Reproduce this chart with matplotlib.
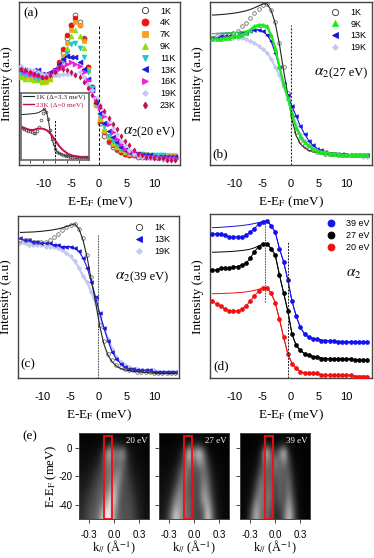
import matplotlib
matplotlib.use('Agg')
import numpy as np
import matplotlib.pyplot as plt
from matplotlib.lines import Line2D
from matplotlib.patches import Rectangle

plt.rcParams['mathtext.fontset'] = 'stix'
SERIF = 'Liberation Serif'
SANS = 'Liberation Sans'
W, H = 374, 558

# energy grid of the EDC points (meV)
energy = np.arange(38) * 0.75 - 14

# panel (a)
a_1k = [58,57,56,56,55,55,55,55,56,61,69,78,86,92,88,78,60,48,37,26,18,14,11,9,8,7,6,6,5,5,5,5,5,5,5,4,4,4]
a_4k = [57,57,56,56,55,54,54,55,58,63,71,80,86,90,86,77,60,48,38,27,20,15,12,10,8,7,6,6,6,6,5,5,5,5,5,5,4,4]
a_7k = [55,54,54,53,52,51,51,53,56,61,67,75,83,88,86,76,59,47,37,29,21,17,13,11,9,8,7,7,7,7,7,6,6,6,6,6,6,6]
a_9k = [54,53,53,52,52,51,52,53,56,60,65,72,79,83,79,72,58,47,38,28,22,17,14,11,10,8,8,7,7,6,6,6,6,5,5,5,5,5]
a_11k = [56,55,55,54,53,54,54,55,57,60,64,69,74,75,72,66,57,47,39,30,24,18,15,12,10,9,8,7,7,7,6,6,6,6,6,5,5,5]
a_13k = [58,58,57,58,58,56,56,57,59,62,65,67,66,66,63,59,53,46,38,32,26,21,17,14,11,9,8,7,7,6,6,6,5,5,5,5,5,5]
a_16k = [59,57,56,56,55,55,55,56,58,59,61,62,63,62,61,57,52,46,41,35,30,25,20,16,13,10,8,7,6,6,5,5,5,4,4,4,4,4]
a_19k = [61,59,58,58,57,56,55,55,55,55,56,56,56,56,57,54,50,46,41,37,32,27,23,19,15,12,9,7,6,5,5,4,4,4,3,3,3,3]
a_23k = [59,58,57,56,55,54,54,55,57,60,59,58,57,55,54,51,47,43,39,36,33,29,25,22,18,15,12,9,7,6,5,5,4,4,4,3,3,3]

# inset of (a)
in_1k = [49,48,47,45,44,43,42,41,41,43,50,60,70,76,72,62,45,32,24,17,12,10,9,8,7,6,6,5,5,5,5,5,4,4,4,4,4,4]
in_1k_fit = [68,68.2,68.4,68.6,68.8,69,69.3,69.6,70,70.6,71.5,73,74.5,76,72,62,45,32,24,17,12,10,9,8,7,6,6,5,5,5,5,5,4,4,4,4,4,4]
in_23k = [49,49,48,47,46,45,45,45,46,47,47,47,47,46,45,43,40,37,33,29,25,21,18,15,13,11,9,8,7,6,6,5,5,4,4,4,4,4]

# panel (b)
b_1k = [78,79,79,80,80,81,82,85,87,90,93,96,98,99,95,88,75,60,44,30,20,15,12,10,9,8,8,7,7,7,6,6,6,6,6,6,6,6]
b_1k_fit = [92,92.1,92.3,92.5,92.8,93.1,93.5,94,94.6,95.4,96.4,97.6,98.8,99,95,87,74,58,43,28,18,13,10.5,9,8.2,7.7,7.3,7,6.8,6.6,6.4,6.3,6.2,6.1,6,6,6,6]
b_9k = [77,77,77,78,78,79,79,80,81,83,85,86,86,85,80,72,60,50,41,31,23,18,14,12,10,9,8,8,7,7,7,6,6,6,6,6,6,6]
b_9k_fit = [80.6,80.7,80.8,80.9,81,81.2,81.4,81.7,82.2,83,84.5,85.7,86,85,80,72,60,50,41,31,23,18,14.5,12,10.2,9,8.2,7.7,7.3,7,6.8,6.6,6.4,6.3,6.2,6.1,6,6]
b_13k = [78,78,79,79,79,79,80,81,81,82,83,83,82,80,76,69,60,50,43,36,30,24,19,15,12,10,9,8,7,7,7,7,6,6,6,6,6,6]
b_13k_fit = [80.6,80.7,80.8,80.9,81,81.1,81.3,81.5,81.8,82.3,82.8,83,82,80,76,69,60,50,43,36,30,24,19,15,12,10.2,9,8.2,7.7,7.3,7,6.8,6.6,6.4,6.2,6.1,6,6]
b_19k = [78,78,78,78,78,78,78,78,77,76,75,73,71,69,65,60,55,48,41,33,25,19,15,12,10,9,8,7,7,7,6,6,6,6,6,6,5,5]

# panel (c)
c_1k = [85,85,85,84,84,84,84,85,87,89,91,93,94,95,92,86,76,62,49,33,23,15,11,8,7,6,5,5,4,4,4,4,3,3,3,3,3,3]
c_1k_fit = [89.7,89.8,89.9,90,90.2,90.4,90.7,91,91.4,91.9,92.5,93.3,94.2,95,92,85,74,60,47,32,21,14,10,7.5,6,5.2,4.7,4.3,4,3.8,3.6,3.4,3.3,3.2,3.1,3,3,3]
c_13k = [86,85,85,84,84,83,83,83,82,82,81,81,81,80,78,74,68,59,50,40,31,23,16,12,9,7,6,6,5,5,5,5,4,4,4,4,4,4]
c_19k = [83,83,82,82,82,82,81,81,81,80,79,77,75,72,68,63,59,53,46,38,31,24,18,13,10,8,7,6,6,5,5,5,5,4,4,4,4,4]

# panel (d)
d_39 = [88,88,88,87,86,86,86,86,87,89,91,94,95,96,93,89,79,71,60,47,38,31,27,25,24,24,23,23,23,23,22,22,22,22,22,22,22,22]
d_39_fit = [91.7,91.8,91.9,92.1,92.3,92.5,92.7,93,93.3,93.7,94.2,94.8,95.4,96,93,89,79,71,60,47,38,31,27,25,24.3,23.8,23.4,23.1,22.9,22.7,22.5,22.4,22.2,22.1,22,21.9,21.8,21.7]
d_27 = [66,66,67,67,67,68,68,69,70,73,77,80,82,82,79,75,63,52,41,27,20,17,15,14,13,13,12,12,12,12,12,12,12,12,11,11,11,11]
d_27_fit = [76.7,76.8,76.9,77,77.1,77.3,77.5,77.8,78.1,78.6,79.4,80.5,81.6,82,79,75,63,52,41,27,20,17,15,14,13.3,12.8,12.5,12.2,12,11.8,11.7,11.6,11.5,11.4,11.3,11.2,11.1,11]
d_20 = [47,45,44,42,41,41,41,42,44,47,50,53,55,55,52,46,36,25,15,9,6,4,3,3,3,3,2,2,2,2,2,2,2,2,1,1,1,1]
d_20_fit = [51.5,51.5,51.6,51.7,51.8,51.9,52.1,52.3,52.6,53,53.5,54.2,54.9,55,52,46,36,25,15,9,6,4.2,3.3,2.8,2.5,2.3,2.1,2,1.9,1.8,1.7,1.6,1.6,1.5,1.5,1.4,1.4,1.4]

# panel (e): ARPES maps, rows from +10 to -50 meV, columns from -0.42 to 0.42
map_20 = [
    [2,2,2,2,2,3,4,4,4,3,3,2,2,2,2],
    [3,3,3,4,5,8,16,16,14,8,5,4,3,3,2],
    [4,4,5,6,10,32,82,48,52,60,15,6,4,3,2],
    [5,5,6,9,16,38,62,38,45,45,15,8,5,4,3],
    [6,7,9,14,22,35,50,40,48,38,20,10,6,5,3],
    [8,9,12,20,28,36,50,48,62,32,24,13,8,6,4],
    [10,12,17,25,32,38,50,68,52,30,27,16,10,7,4],
    [12,15,22,30,35,42,62,80,45,30,28,20,12,8,5],
    [14,20,26,32,38,52,80,85,40,30,30,24,14,9,5],
    [15,22,30,35,42,72,92,72,38,30,32,26,15,10,6],
    [18,25,32,38,55,92,98,62,38,32,32,28,18,10,6],
]
map_27 = [
    [1,1,1,1,2,2,3,3,3,2,2,1,1,1,1],
    [2,2,2,3,4,7,18,12,16,6,3,2,2,1,1],
    [3,3,3,4,8,30,88,52,86,48,8,3,2,2,1],
    [3,3,4,6,14,35,70,35,65,55,18,5,3,2,2],
    [4,4,5,10,25,45,45,30,40,48,28,8,4,3,2],
    [5,5,8,14,35,50,38,30,32,48,35,10,5,3,2],
    [5,6,10,22,45,45,35,30,30,55,42,14,6,3,2],
    [6,8,12,35,55,42,35,30,30,62,48,18,7,4,2],
    [7,10,20,50,60,42,38,30,28,65,62,22,8,4,3],
    [8,12,30,65,62,45,40,28,28,45,75,30,9,5,3],
    [9,15,40,85,62,45,40,28,26,35,88,38,10,5,3],
]
map_39 = [
    [1,1,1,1,1,2,2,2,2,2,1,1,1,1,1],
    [1,1,1,2,4,15,12,5,8,15,4,2,1,1,1],
    [2,2,2,3,10,85,48,20,48,85,12,3,2,1,1],
    [2,2,3,5,20,60,35,52,38,60,25,4,2,2,1],
    [3,3,3,8,30,45,35,45,38,40,30,6,3,2,1],
    [3,3,4,15,40,40,38,35,38,35,38,10,3,2,1],
    [3,3,6,25,50,38,45,25,40,32,45,14,4,2,1],
    [3,4,8,35,52,38,50,22,40,32,50,18,4,2,1],
    [3,4,15,52,50,40,50,20,36,30,62,24,5,2,2],
    [3,5,25,68,45,42,42,18,28,35,72,32,5,2,2],
    [3,6,38,75,42,42,35,15,20,40,82,38,6,3,2],
]

LIGHT = '#c3c8f5'
BLUE = '#1414e6'
LIME = '#22e622'
GREY = '#444444'

fig = plt.figure(figsize=(W / 100, H / 100), dpi=100)


def axes_px(left, top, right, bottom):
    return fig.add_axes([left / W, 1 - bottom / H, (right - left) / W, (bottom - top) / H])


def edc_panel(left, top, right, bottom, xlim, letter, lx, ly):
    ax = axes_px(left, top, right, bottom)
    ax.set_xlim(*xlim)
    ax.set_ylim(0, 100)
    ax.set_yticks([])
    ax.set_xticks([-10, -5, 0, 5, 10])
    ax.set_xticklabels(['-10', '-5', '0', '5', '10'], family=SANS, fontsize=8)
    ax.tick_params(axis='x', length=0, pad=10)
    ax.set_xlabel('E-E$_{\\mathrm{F}}$ (meV)', family=SERIF, fontsize=9.5, labelpad=4)
    ax.set_ylabel('Intensity (a.u)', family=SERIF, fontsize=9.5, labelpad=4)
    for s in ax.spines.values():
        s.set_color(GREY)
        s.set_linewidth(1.0)
    ax.text(lx, ly, letter, transform=ax.transAxes, family=SERIF, fontsize=9.5, va='center')
    return ax


def add_legend(ax, entries, anchor, spacing=0.31):
    handles = [Line2D([], [], ls='none', marker=m, ms=ms, mfc=fc, mec=ec, mew=0.6, label=t)
               for t, m, ms, fc, ec in entries]
    ax.legend(handles=handles, loc='upper right', bbox_to_anchor=anchor, frameon=False,
              prop={'family': SANS, 'size': 6.5}, labelspacing=spacing, handletextpad=1.1,
              handlelength=1.2, borderpad=0, borderaxespad=0)


def pts(ax, y, marker, fc, ec=None, ms=3.2, z=3):
    ax.plot(energy, y, ls='none', marker=marker, ms=ms, mfc=fc, mec=ec or fc, mew=0.5, zorder=z)


# panel (a)
ax = edc_panel(19, 2, 180, 165, (-14.4, 14.6), '(a)', 0.027, 0.93)
pts(ax, a_1k, 'o', 'none', '#333333', ms=3.5, z=3)
pts(ax, a_4k, 'o', '#f01010', ms=3.5, z=4)
pts(ax, a_7k, 's', '#f9a01b', ms=3.5, z=5)
pts(ax, a_9k, '^', '#8fe000', ms=3.5, z=6)
pts(ax, a_11k, 'v', '#1fc8c8', ms=3.5, z=7)
pts(ax, a_13k, '<', '#1a1ae0', ms=3.5, z=8)
pts(ax, a_16k, '>', '#f01ed8', ms=3.5, z=9)
pts(ax, a_19k, 'D', LIGHT, ms=2.4, z=10)
pts(ax, a_23k, 'd', '#c01050', ms=2.6, z=11)
ax.plot([0, 0], [0, 86], color='k', lw=0.7, ls=(0, (3, 2)))
ax.text(0.645, 0.20, '$\\alpha_2$', transform=ax.transAxes, family=SERIF, fontsize=11, va='center')
ax.text(0.735, 0.20, '(20 eV)', transform=ax.transAxes, family=SERIF, fontsize=8.8, va='center')
add_legend(ax, [('1K', 'o', 4.5, 'none', '#333333'), ('4K', 'o', 5, '#f01010', '#f01010'),
                ('7K', 's', 5, '#f9a01b', '#f9a01b'), ('9K', '^', 5, '#8fe000', '#8fe000'),
                ('11K', 'v', 5, '#1fc8c8', '#1fc8c8'), ('13K', '<', 5, '#1a1ae0', '#1a1ae0'),
                ('16K', '>', 5, '#f01ed8', '#f01ed8'), ('19K', 'D', 3, LIGHT, LIGHT),
                ('23K', 'd', 3.5, '#c01050', '#c01050')], (0.975, 0.972))

# inset of (a)
ins = axes_px(20.7, 93.3, 89, 160)
ins.set_zorder(20)
ins.set_xlim(-14, 14)
ins.set_ylim(0, 100)
ins.set_yticks([])
ins.set_xticks([-10, -5, 0, 5, 10])
ins.set_xticklabels([])
ins.tick_params(axis='x', length=2.5, width=0.7, color=GREY)
for s in ins.spines.values():
    s.set_color('#666666')
    s.set_linewidth(1.2)
ins.plot(energy, in_1k_fit, color='#222222', lw=0.7)
ins.plot(energy, in_1k, ls='none', marker='o', ms=2.0, mfc='none', mec='#444444', mew=0.5)
ins.plot(energy, in_23k, color='#c0104a', lw=1.4)
ins.plot([0, 0], [0, 60], color='k', lw=0.7, ls=(0, (2, 1.5)))
h1 = Line2D([], [], color='#222222', lw=0.8, label='1K (\u0394=3.3 meV)')
h2 = Line2D([], [], color='#c0104a', lw=1.0, label='23K (\u0394=0 meV)')
ins.legend(handles=[h1, h2], loc='upper left', bbox_to_anchor=(0.03, 1.0), frameon=False,
           prop={'family': SERIF, 'size': 5.2}, labelcolor=['#222222', '#c0104a'],
           labelspacing=0.3, handlelength=1.6, handletextpad=0.3, borderpad=0, borderaxespad=0)

# panel (b)
ax = edc_panel(209.7, 2, 372, 165, (-14.5, 14.6), '(b)', 0.015, 0.065)
ax.plot(energy, b_19k, color=LIGHT, lw=1.4, zorder=2)
pts(ax, b_19k, 'D', LIGHT, ms=2.2, z=2)
ax.plot(energy, b_1k_fit, color='#222222', lw=0.8, zorder=5)
pts(ax, b_1k, 'o', 'none', '#555555', ms=2.6, z=4)
ax.plot(energy, b_13k_fit, color=BLUE, lw=0.8, zorder=3)
pts(ax, b_13k, '<', BLUE, ms=2.6, z=3)
ax.plot(energy, b_9k, color=LIME, lw=1.6, zorder=6)
ax.plot(energy, b_9k_fit, color=LIME, lw=0.8, zorder=6)
pts(ax, b_9k, '^', LIME, ms=2.8, z=6)
ax.plot([0, 0], [0, 86], color='#333333', lw=0.8, ls=(0, (2, 1.2)), zorder=7)
ax.text(0.645, 0.56, '$\\alpha_2$', transform=ax.transAxes, family=SERIF, fontsize=11, va='center')
ax.text(0.735, 0.56, '(27 eV)', transform=ax.transAxes, family=SERIF, fontsize=9, va='center')
add_legend(ax, [('1K', 'o', 4.5, 'none', '#333333'), ('9K', '^', 5, LIME, LIME),
                ('13K', '<', 5, BLUE, BLUE), ('19K', 'D', 3, LIGHT, LIGHT)], (0.965, 0.965))

# panel (c)
ax = edc_panel(17.7, 215.7, 179.3, 378.3, (-14.5, 14.55), '(c)', 0.015, 0.085)
ax.plot(energy, c_19k, color=LIGHT, lw=1.6, zorder=2)
pts(ax, c_19k, 'D', LIGHT, ms=2.2, z=2)
ax.plot(energy, c_1k_fit, color='#222222', lw=0.8, zorder=5)
pts(ax, c_1k, 'o', 'none', '#555555', ms=2.6, z=4)
ax.plot(energy, c_13k, color=BLUE, lw=0.8, zorder=3)
pts(ax, c_13k, '<', BLUE, ms=2.6, z=3)
ax.plot([0, 0], [0, 88], color='#333333', lw=0.6, ls=(0, (2, 1.2)), zorder=7)
ax.text(0.605, 0.62, '$\\alpha_2$', transform=ax.transAxes, family=SERIF, fontsize=11, va='center')
ax.text(0.695, 0.62, '(39 eV)', transform=ax.transAxes, family=SERIF, fontsize=9, va='center')
add_legend(ax, [('1K', 'o', 4.5, 'none', '#333333'), ('13K', '<', 5, BLUE, BLUE),
                ('19K', 'D', 3, LIGHT, LIGHT)], (0.945, 0.955), spacing=0.34)

# panel (d)
ax = edc_panel(209.7, 214, 372, 378.3, (-14.5, 14.6), '(d)', 0.02, 0.075)
for data, fit, col in [(d_39, d_39_fit, '#1010f0'), (d_27, d_27_fit, '#000000'), (d_20, d_20_fit, '#f01010')]:
    ax.plot(energy, fit, color=col, lw=0.7, zorder=2)
    ax.plot(energy, data, color=col, lw=0.7, zorder=2)
    pts(ax, data, 'o', col, ms=2.8, z=3)
ax.plot([-4.5, -4.5], [46.6, 96.5], color='#333333', lw=0.6, ls=(0, (2, 1.2)), zorder=5)
ax.plot([-0.5, -0.5], [0, 83], color='#222222', lw=0.7, ls=(0, (2, 1.2)), zorder=5)
ax.text(0.84, 0.635, '$\\alpha_2$', transform=ax.transAxes, family=SERIF, fontsize=11, va='center')
add_legend(ax, [('39 eV', 'o', 5, '#1010f0', '#1010f0'), ('27 eV', 'o', 5, 'k', 'k'),
                ('20 eV', 'o', 5, '#f01010', '#f01010')], (0.985, 0.968))

# panel (e)
maps = [map_20, map_27, map_39]
labels = ['20 eV', '27 eV', '39 eV']
edges = [79.3, 159, 240]
for i in range(3):
    ax = axes_px(edges[i], 433.3, edges[i] + 70, 519.3)
    ax.imshow(maps[i], cmap='gray', vmin=0, vmax=100, aspect='auto', interpolation='bicubic',
              extent=(-0.42, 0.42, -50, 10))
    ax.add_patch(Rectangle((-0.12, -49.5), 0.096, 57.5, fill=False, ec='#f01010', lw=1.3))
    ax.set_xticks([-0.3, 0.0, 0.3])
    ax.set_xticklabels(['-0.3', '0.0', '0.3'], family=SANS, fontsize=7)
    ax.set_yticks([0, -20, -40])
    ax.tick_params(length=3, width=0.7, color=GREY, pad=2)
    ax.tick_params(axis='x', pad=5)
    if i == 0:
        ax.set_yticklabels(['0', '-20', '-40'], family=SANS, fontsize=7)
        ax.set_ylabel('E-E$_{\\mathrm{F}}$ (meV)', family=SERIF, fontsize=9.2, labelpad=-0.5)
    else:
        ax.set_yticklabels([])
    ax.set_xlabel('k$_{//}$ (\u00c5$^{-1}$)', family=SERIF, fontsize=8.8, labelpad=-1)
    for s in ax.spines.values():
        s.set_color(GREY)
        s.set_linewidth(0.7)
    ax.text(0.97, 0.91, labels[i], transform=ax.transAxes, color='white', family=SERIF,
            fontsize=6.5, ha='right', va='center')

fig.text(22 / W, 1 - 436 / H, '(e)', family=SERIF, fontsize=9.5, va='center')

fig.savefig('out.png', dpi=100)
